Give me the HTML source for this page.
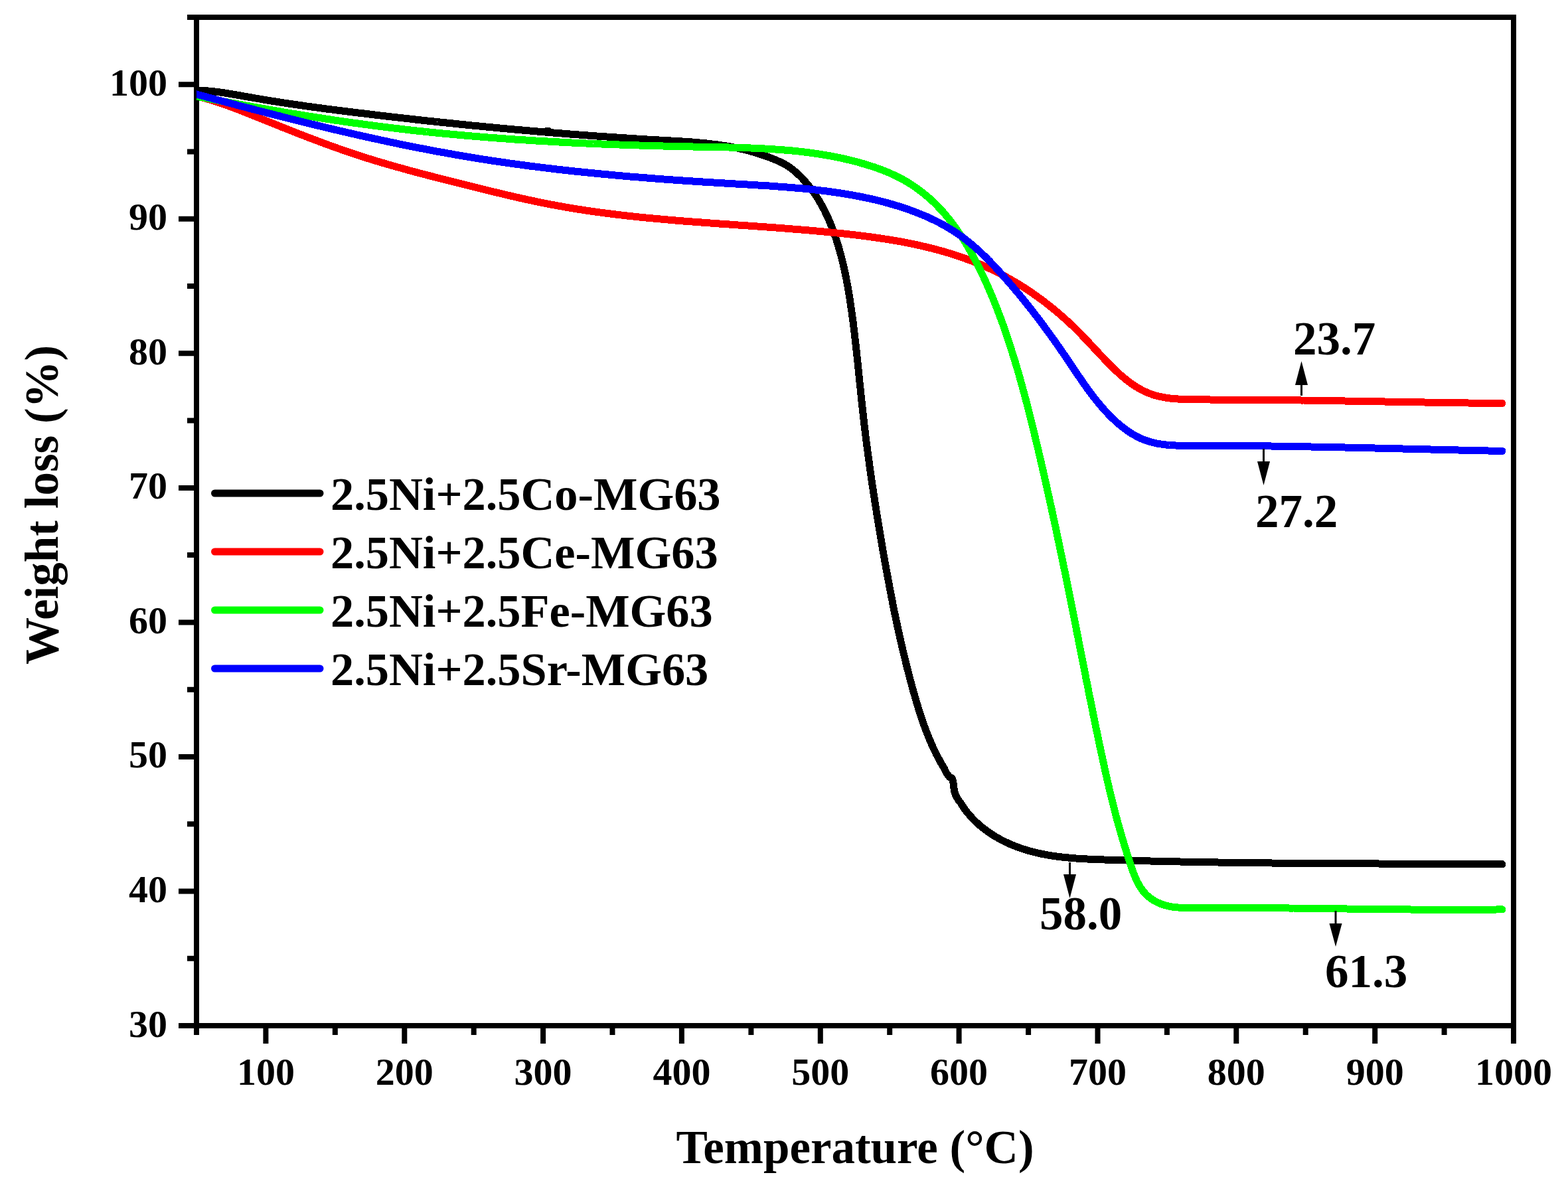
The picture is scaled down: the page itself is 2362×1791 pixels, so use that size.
<!DOCTYPE html>
<html><head><meta charset="utf-8"><style>html,body{margin:0;padding:0;background:#fff;overflow:hidden;}svg{display:block;}</style></head>
<body><svg width="2362" height="1791" viewBox="0 0 2362 1791">
<rect width="2362" height="1791" fill="#fff"/>
<defs><clipPath id="pc"><rect x="296" y="0" width="2100" height="1791"/></clipPath></defs>
<path d="M269,1545.0H296 M282,1443.7H296 M269,1342.5H296 M282,1241.2H296 M269,1139.9H296 M282,1038.7H296 M269,937.4H296 M282,836.1H296 M269,734.9H296 M282,633.6H296 M269,532.3H296 M282,431.1H296 M269,329.8H296 M282,228.5H296 M269,127.3H296 M282,26.0H296 M296.0,1545V1559 M400.4,1545V1572 M504.8,1545V1559 M609.3,1545V1572 M713.7,1545V1559 M818.1,1545V1572 M922.5,1545V1559 M1026.9,1545V1572 M1131.4,1545V1559 M1235.8,1545V1572 M1340.2,1545V1559 M1444.6,1545V1572 M1549.1,1545V1559 M1653.5,1545V1572 M1757.9,1545V1559 M1862.3,1545V1572 M1966.7,1545V1559 M2071.2,1545V1572 M2175.6,1545V1559 M2280.0,1545V1572" stroke="#000" stroke-width="8" fill="none"/>
<rect x="296" y="26" width="1984" height="1519" fill="none" stroke="#000" stroke-width="8"/>
<g clip-path="url(#pc)" fill="none" stroke-width="11" stroke-linecap="round" stroke-linejoin="round" shape-rendering="crispEdges">
<path d="M296.0,135.7 L299.0,136.0 L302.0,136.2 L305.0,136.3 L308.0,136.5 L311.0,136.8 L314.0,137.0 L316.9,137.3 L319.9,137.6 L322.9,137.9 L325.9,138.3 L328.9,138.7 L331.8,139.1 L334.8,139.5 L337.8,139.9 L340.7,140.4 L343.7,140.8 L346.6,141.3 L349.6,141.8 L352.5,142.3 L355.5,142.8 L358.4,143.3 L361.4,143.8 L364.4,144.4 L367.3,144.9 L370.3,145.4 L373.2,145.9 L376.2,146.5 L379.1,147.0 L382.1,147.5 L385.0,148.0 L388.0,148.5 L390.9,149.0 L393.9,149.5 L396.8,150.0 L399.8,150.5 L402.8,151.0 L405.7,151.5 L408.7,152.0 L411.6,152.4 L414.6,152.9 L417.5,153.4 L420.5,153.8 L423.5,154.3 L426.4,154.8 L429.4,155.2 L432.4,155.7 L435.3,156.1 L438.3,156.5 L441.3,157.0 L444.2,157.4 L447.2,157.8 L450.2,158.3 L453.1,158.7 L456.1,159.1 L459.1,159.5 L462.0,160.0 L465.0,160.4 L468.0,160.8 L470.9,161.2 L473.9,161.6 L476.9,162.0 L479.9,162.4 L482.8,162.8 L485.8,163.2 L488.8,163.6 L491.7,164.0 L494.7,164.4 L497.7,164.7 L500.7,165.1 L503.6,165.5 L506.6,165.9 L509.6,166.3 L512.6,166.6 L515.5,167.0 L518.5,167.4 L521.5,167.8 L524.5,168.1 L527.4,168.5 L530.4,168.9 L533.4,169.2 L536.4,169.6 L539.3,170.0 L542.3,170.3 L545.3,170.7 L548.3,171.0 L551.2,171.4 L554.2,171.8 L557.2,172.1 L560.2,172.5 L563.1,172.8 L566.1,173.2 L569.1,173.5 L572.1,173.9 L575.1,174.2 L578.0,174.6 L581.0,174.9 L584.0,175.3 L587.0,175.6 L589.9,176.0 L592.9,176.3 L595.9,176.6 L598.9,177.0 L601.9,177.3 L604.8,177.7 L607.8,178.0 L610.8,178.3 L613.8,178.7 L616.8,179.0 L619.7,179.3 L622.7,179.7 L625.7,180.0 L628.7,180.3 L631.6,180.7 L634.6,181.0 L637.6,181.3 L640.6,181.6 L643.6,182.0 L646.5,182.3 L649.5,182.6 L652.5,182.9 L655.5,183.2 L658.5,183.6 L661.4,183.9 L664.4,184.2 L667.4,184.5 L670.4,184.8 L673.4,185.1 L676.4,185.4 L679.3,185.7 L682.3,186.0 L685.3,186.4 L688.3,186.7 L691.3,187.0 L694.2,187.3 L697.2,187.6 L700.2,187.9 L703.2,188.2 L706.2,188.5 L709.2,188.8 L712.1,189.1 L715.1,189.3 L718.1,189.6 L721.1,189.9 L724.1,190.2 L727.1,190.5 L730.0,190.8 L733.0,191.1 L736.0,191.4 L739.0,191.7 L742.0,191.9 L745.0,192.2 L747.9,192.5 L750.9,192.8 L753.9,193.1 L756.9,193.3 L759.9,193.6 L762.9,193.9 L765.8,194.2 L768.8,194.4 L771.8,194.7 L774.8,195.0 L777.8,195.2 L780.8,195.5 L783.8,195.8 L786.7,196.0 L789.7,196.3 L792.7,196.6 L795.7,196.8 L798.7,197.1 L801.7,197.3 L804.7,197.6 L807.6,197.8 L810.6,198.1 L813.6,198.3 L816.6,198.6 L819.6,198.8 L822.6,199.1 L825.6,199.3 L828.6,199.6 L831.5,199.8 L834.5,200.1 L837.5,200.3 L840.5,200.6 L843.5,200.8 L846.5,201.0 L849.5,201.3 L852.5,201.5 L855.4,201.7 L858.4,202.0 L861.4,202.2 L864.4,202.4 L867.4,202.7 L870.4,202.9 L873.4,203.1 L876.4,203.3 L879.4,203.6 L882.3,203.8 L885.3,204.0 L888.3,204.2 L891.3,204.4 L894.3,204.7 L897.3,204.9 L900.3,205.1 L903.3,205.3 L906.3,205.5 L909.3,205.7 L912.2,205.9 L915.2,206.1 L918.2,206.3 L921.2,206.5 L924.2,206.7 L927.2,206.9 L930.2,207.1 L933.2,207.3 L936.2,207.5 L939.2,207.7 L942.2,207.9 L945.2,208.1 L948.2,208.3 L951.1,208.5 L954.1,208.7 L957.1,208.9 L960.1,209.1 L963.1,209.2 L966.1,209.4 L969.1,209.6 L972.1,209.8 L975.1,210.0 L978.1,210.1 L981.1,210.3 L984.1,210.5 L987.1,210.7 L990.1,210.8 L993.1,211.0 L996.0,211.2 L999.0,211.3 L1002.0,211.5 L1005.0,211.7 L1008.0,211.8 L1011.0,212.0 L1014.0,212.2 L1017.0,212.4 L1020.0,212.5 L1023.0,212.7 L1026.0,212.9 L1029.0,213.1 L1032.0,213.3 L1035.0,213.5 L1038.0,213.7 L1040.9,213.9 L1043.9,214.1 L1046.9,214.4 L1049.9,214.6 L1052.9,214.9 L1055.9,215.2 L1058.8,215.4 L1061.8,215.7 L1064.8,216.0 L1067.8,216.4 L1070.7,216.7 L1073.7,217.1 L1076.7,217.4 L1079.6,217.8 L1082.6,218.2 L1085.6,218.6 L1088.5,219.1 L1091.5,219.5 L1094.4,220.0 L1097.4,220.5 L1100.3,221.0 L1103.3,221.6 L1106.2,222.2 L1109.2,222.8 L1112.1,223.4 L1115.0,224.0 L1118.0,224.7 L1120.9,225.4 L1123.8,226.1 L1126.7,226.8 L1129.6,227.6 L1132.5,228.4 L1135.4,229.3 L1138.3,230.1 L1141.2,231.0 L1144.1,231.9 L1147.0,232.9 L1149.9,233.9 L1152.7,234.8 L1155.6,235.9 L1158.4,236.9 L1161.2,238.0 L1164.0,239.0 L1166.8,240.2 L1169.5,241.3 L1172.2,242.5 L1174.9,243.7 L1177.6,245.0 L1180.2,246.4 L1182.8,247.8 L1185.3,249.3 L1187.9,250.9 L1190.3,252.6 L1192.7,254.4 L1195.1,256.2 L1197.4,258.2 L1199.7,260.1 L1201.9,262.2 L1204.1,264.3 L1206.3,266.4 L1208.4,268.6 L1210.4,270.8 L1212.5,273.0 L1214.4,275.3 L1216.4,277.6 L1218.3,279.9 L1220.1,282.2 L1222.0,284.6 L1223.7,287.0 L1225.5,289.4 L1227.2,291.9 L1228.8,294.4 L1230.5,296.9 L1232.1,299.4 L1233.6,302.0 L1235.1,304.5 L1236.6,307.1 L1238.1,309.7 L1239.5,312.4 L1240.9,315.0 L1242.3,317.7 L1243.6,320.4 L1244.9,323.1 L1246.2,325.8 L1247.4,328.5 L1248.6,331.3 L1249.8,334.0 L1250.9,336.8 L1252.1,339.6 L1253.2,342.4 L1254.2,345.2 L1255.3,348.0 L1256.3,350.8 L1257.3,353.7 L1258.3,356.5 L1259.3,359.4 L1260.2,362.2 L1261.1,365.1 L1262.0,368.0 L1262.9,370.9 L1263.7,373.7 L1264.5,376.6 L1265.3,379.5 L1266.1,382.4 L1266.9,385.3 L1267.7,388.2 L1268.4,391.1 L1269.1,394.0 L1269.8,396.9 L1270.5,399.8 L1271.2,402.8 L1271.8,405.7 L1272.5,408.6 L1273.1,411.5 L1273.7,414.5 L1274.3,417.4 L1274.9,420.3 L1275.4,423.3 L1276.0,426.2 L1276.5,429.2 L1277.1,432.1 L1277.6,435.1 L1278.1,438.0 L1278.6,441.0 L1279.1,443.9 L1279.6,446.9 L1280.0,449.8 L1280.5,452.8 L1280.9,455.8 L1281.4,458.7 L1281.8,461.7 L1282.2,464.7 L1282.7,467.6 L1283.1,470.6 L1283.5,473.6 L1283.9,476.5 L1284.3,479.5 L1284.7,482.5 L1285.1,485.4 L1285.4,488.4 L1285.8,491.4 L1286.2,494.4 L1286.5,497.3 L1286.9,500.3 L1287.3,503.3 L1287.6,506.2 L1287.9,509.2 L1288.3,512.2 L1288.6,515.2 L1289.0,518.2 L1289.3,521.1 L1289.6,524.1 L1290.0,527.1 L1290.3,530.1 L1290.6,533.1 L1290.9,536.0 L1291.2,539.0 L1291.6,542.0 L1291.9,545.0 L1292.2,548.0 L1292.5,550.9 L1292.8,553.9 L1293.1,556.9 L1293.4,559.9 L1293.7,562.9 L1294.0,565.8 L1294.3,568.8 L1294.6,571.8 L1294.9,574.8 L1295.2,577.8 L1295.5,580.8 L1295.9,583.7 L1296.2,586.7 L1296.5,589.7 L1296.8,592.7 L1297.1,595.7 L1297.4,598.7 L1297.7,601.6 L1298.0,604.6 L1298.4,607.6 L1298.7,610.6 L1299.0,613.6 L1299.3,616.5 L1299.6,619.5 L1300.0,622.5 L1300.3,625.5 L1300.6,628.5 L1301.0,631.4 L1301.3,634.4 L1301.7,637.4 L1302.0,640.4 L1302.4,643.4 L1302.7,646.3 L1303.1,649.3 L1303.5,652.3 L1303.8,655.3 L1304.2,658.2 L1304.6,661.2 L1304.9,664.2 L1305.3,667.2 L1305.7,670.1 L1306.1,673.1 L1306.5,676.1 L1306.9,679.1 L1307.3,682.0 L1307.7,685.0 L1308.1,688.0 L1308.5,691.0 L1308.9,693.9 L1309.3,696.9 L1309.7,699.9 L1310.1,702.8 L1310.5,705.8 L1310.9,708.8 L1311.4,711.7 L1311.8,714.7 L1312.2,717.7 L1312.6,720.7 L1313.1,723.6 L1313.5,726.6 L1313.9,729.6 L1314.4,732.5 L1314.8,735.5 L1315.3,738.5 L1315.7,741.4 L1316.2,744.4 L1316.6,747.3 L1317.1,750.3 L1317.5,753.3 L1318.0,756.2 L1318.5,759.2 L1318.9,762.2 L1319.4,765.1 L1319.9,768.1 L1320.3,771.0 L1320.8,774.0 L1321.3,777.0 L1321.8,779.9 L1322.2,782.9 L1322.7,785.8 L1323.2,788.8 L1323.7,791.8 L1324.2,794.7 L1324.7,797.7 L1325.2,800.6 L1325.7,803.6 L1326.2,806.6 L1326.7,809.5 L1327.2,812.5 L1327.7,815.4 L1328.2,818.4 L1328.7,821.3 L1329.2,824.3 L1329.7,827.2 L1330.2,830.2 L1330.7,833.1 L1331.2,836.1 L1331.8,839.0 L1332.3,842.0 L1332.8,844.9 L1333.3,847.9 L1333.9,850.8 L1334.4,853.8 L1334.9,856.7 L1335.4,859.7 L1336.0,862.6 L1336.5,865.6 L1337.1,868.5 L1337.6,871.5 L1338.2,874.4 L1338.7,877.4 L1339.3,880.3 L1339.8,883.3 L1340.4,886.2 L1340.9,889.1 L1341.5,892.1 L1342.1,895.0 L1342.6,898.0 L1343.2,900.9 L1343.8,903.8 L1344.4,906.8 L1344.9,909.7 L1345.5,912.6 L1346.1,915.6 L1346.7,918.5 L1347.3,921.5 L1347.9,924.4 L1348.5,927.3 L1349.1,930.3 L1349.7,933.2 L1350.4,936.1 L1351.0,939.0 L1351.6,942.0 L1352.2,944.9 L1352.9,947.8 L1353.5,950.8 L1354.2,953.7 L1354.8,956.6 L1355.5,959.5 L1356.1,962.5 L1356.8,965.4 L1357.4,968.3 L1358.1,971.2 L1358.8,974.1 L1359.5,977.1 L1360.2,980.0 L1360.9,982.9 L1361.6,985.8 L1362.3,988.7 L1363.0,991.6 L1363.7,994.5 L1364.4,997.5 L1365.1,1000.4 L1365.8,1003.3 L1366.6,1006.2 L1367.3,1009.1 L1368.1,1012.0 L1368.8,1014.9 L1369.6,1017.8 L1370.3,1020.7 L1371.1,1023.6 L1371.9,1026.5 L1372.7,1029.4 L1373.4,1032.3 L1374.2,1035.2 L1375.0,1038.1 L1375.8,1041.0 L1376.6,1043.9 L1377.5,1046.8 L1378.3,1049.7 L1379.1,1052.6 L1380.0,1055.5 L1380.8,1058.3 L1381.7,1061.2 L1382.6,1064.1 L1383.4,1067.0 L1384.3,1069.8 L1385.2,1072.7 L1386.2,1075.6 L1387.1,1078.4 L1388.0,1081.3 L1389.0,1084.1 L1390.0,1086.9 L1391.0,1089.8 L1392.0,1092.6 L1393.0,1095.4 L1394.1,1098.2 L1395.1,1101.0 L1396.2,1103.8 L1397.3,1106.6 L1398.4,1109.4 L1399.5,1112.1 L1400.7,1114.9 L1401.9,1117.7 L1403.1,1120.4 L1404.3,1123.1 L1405.5,1125.8 L1406.8,1128.5 L1408.1,1131.2 L1409.4,1133.9 L1410.7,1136.6 L1412.1,1139.3 L1413.5,1141.9 L1414.9,1144.5 L1416.4,1147.2 L1417.8,1149.8 L1419.3,1152.4 L1420.9,1154.9 L1422.4,1157.5 L1425.5,1164.0 L1430.0,1170.3 L1434.0,1172.3 L1435.6,1176.0 L1436.5,1183.0 L1437.5,1192.0 L1440.0,1199.0 L1444.0,1205.5 L1447.4,1209.7 L1448.9,1212.2 L1450.5,1214.8 L1452.2,1217.2 L1453.9,1219.7 L1455.7,1222.1 L1457.6,1224.4 L1459.5,1226.7 L1461.4,1229.0 L1463.5,1231.2 L1465.5,1233.4 L1467.7,1235.6 L1469.8,1237.7 L1472.1,1239.8 L1474.3,1241.8 L1476.6,1243.8 L1479.0,1245.8 L1481.4,1247.7 L1483.8,1249.5 L1486.2,1251.3 L1488.7,1253.1 L1491.2,1254.8 L1493.8,1256.5 L1496.3,1258.2 L1498.9,1259.8 L1501.5,1261.3 L1504.1,1262.8 L1506.8,1264.3 L1509.4,1265.7 L1512.1,1267.0 L1514.8,1268.4 L1517.5,1269.6 L1520.2,1270.9 L1522.9,1272.1 L1525.6,1273.2 L1528.4,1274.3 L1531.1,1275.4 L1533.9,1276.4 L1536.7,1277.4 L1539.5,1278.3 L1542.3,1279.3 L1545.1,1280.1 L1547.9,1281.0 L1550.8,1281.8 L1553.6,1282.6 L1556.5,1283.3 L1559.3,1284.0 L1562.2,1284.7 L1565.1,1285.3 L1568.0,1286.0 L1570.9,1286.6 L1573.8,1287.1 L1576.7,1287.7 L1579.6,1288.2 L1582.5,1288.7 L1585.5,1289.1 L1588.4,1289.5 L1591.4,1290.0 L1594.3,1290.3 L1597.3,1290.7 L1600.2,1291.1 L1603.2,1291.4 L1606.2,1291.7 L1609.2,1292.0 L1612.1,1292.3 L1615.1,1292.5 L1618.1,1292.8 L1621.1,1293.0 L1624.1,1293.2 L1627.1,1293.4 L1630.1,1293.6 L1633.2,1293.8 L1636.2,1293.9 L1639.2,1294.1 L1642.2,1294.2 L1645.2,1294.3 L1648.2,1294.5 L1651.3,1294.6 L1654.3,1294.7 L1657.3,1294.8 L1660.3,1294.9 L1663.3,1295.0 L1666.4,1295.1 L1669.4,1295.2 L1672.4,1295.3 L1675.4,1295.4 L1678.5,1295.5 L1681.5,1295.6 L1684.5,1295.7 L1687.5,1295.8 L1690.5,1295.8 L1693.6,1295.9 L1696.6,1296.0 L1699.6,1296.1 L1702.6,1296.2 L1705.6,1296.3 L1708.6,1296.4 L1711.6,1296.4 L1714.7,1296.5 L1717.7,1296.6 L1720.7,1296.7 L1723.7,1296.7 L1726.7,1296.8 L1729.7,1296.9 L1732.7,1297.0 L1735.7,1297.0 L1738.7,1297.1 L1741.7,1297.2 L1744.8,1297.3 L1747.8,1297.3 L1750.8,1297.4 L1753.8,1297.5 L1756.8,1297.5 L1759.8,1297.6 L1762.8,1297.7 L1765.8,1297.7 L1768.8,1297.8 L1771.8,1297.9 L1774.8,1297.9 L1777.8,1298.0 L1780.8,1298.0 L1783.8,1298.1 L1786.8,1298.1 L1789.8,1298.2 L1792.8,1298.3 L1795.8,1298.3 L1798.8,1298.4 L1801.8,1298.4 L1804.8,1298.5 L1807.8,1298.5 L1810.8,1298.6 L1813.8,1298.6 L1816.8,1298.7 L1819.8,1298.7 L1822.8,1298.8 L1825.8,1298.8 L1828.8,1298.9 L1831.8,1298.9 L1834.8,1299.0 L1837.8,1299.0 L1840.7,1299.1 L1843.7,1299.1 L1846.7,1299.1 L1849.7,1299.2 L1852.7,1299.2 L1855.7,1299.3 L1858.7,1299.3 L1861.7,1299.4 L1864.7,1299.4 L1867.7,1299.4 L1870.7,1299.5 L1873.7,1299.5 L1876.7,1299.5 L1879.6,1299.6 L1882.6,1299.6 L1885.6,1299.6 L1888.6,1299.7 L1891.6,1299.7 L1894.6,1299.7 L1897.6,1299.8 L1900.6,1299.8 L1903.6,1299.8 L1906.5,1299.9 L1909.5,1299.9 L1912.5,1299.9 L1915.5,1300.0 L1918.5,1300.0 L1921.5,1300.0 L1924.5,1300.0 L1927.5,1300.1 L1930.4,1300.1 L1933.4,1300.1 L1936.4,1300.2 L1939.4,1300.2 L1942.4,1300.2 L1945.4,1300.2 L1948.4,1300.3 L1951.4,1300.3 L1954.3,1300.3 L1957.3,1300.3 L1960.3,1300.3 L1963.3,1300.4 L1966.3,1300.4 L1969.3,1300.4 L1972.3,1300.4 L1975.3,1300.4 L1978.2,1300.5 L1981.2,1300.5 L1984.2,1300.5 L1987.2,1300.5 L1990.2,1300.5 L1993.2,1300.6 L1996.2,1300.6 L1999.2,1300.6 L2002.1,1300.6 L2005.1,1300.6 L2008.1,1300.6 L2011.1,1300.7 L2014.1,1300.7 L2017.1,1300.7 L2020.1,1300.7 L2023.1,1300.7 L2026.0,1300.7 L2029.0,1300.8 L2032.0,1300.8 L2035.0,1300.8 L2038.0,1300.8 L2041.0,1300.8 L2044.0,1300.8 L2047.0,1300.8 L2049.9,1300.8 L2052.9,1300.9 L2055.9,1300.9 L2058.9,1300.9 L2061.9,1300.9 L2064.9,1300.9 L2067.9,1300.9 L2070.9,1300.9 L2073.9,1300.9 L2076.9,1301.0 L2079.9,1301.0 L2082.8,1301.0 L2085.8,1301.0 L2088.8,1301.0 L2091.8,1301.0 L2094.8,1301.0 L2097.8,1301.0 L2100.8,1301.0 L2103.8,1301.1 L2106.8,1301.1 L2109.8,1301.1 L2112.8,1301.1 L2115.8,1301.1 L2118.8,1301.1 L2121.8,1301.1 L2124.8,1301.1 L2127.8,1301.1 L2130.7,1301.1 L2133.7,1301.2 L2136.7,1301.2 L2139.7,1301.2 L2142.7,1301.2 L2145.7,1301.2 L2148.7,1301.2 L2151.7,1301.2 L2154.7,1301.2 L2157.7,1301.2 L2160.7,1301.2 L2163.7,1301.3 L2166.7,1301.3 L2169.7,1301.3 L2172.7,1301.3 L2175.7,1301.3 L2178.8,1301.3 L2181.8,1301.3 L2184.8,1301.3 L2187.8,1301.3 L2190.8,1301.3 L2193.8,1301.4 L2196.8,1301.4 L2199.8,1301.4 L2202.8,1301.4 L2205.8,1301.4 L2208.8,1301.4 L2211.8,1301.4 L2214.8,1301.4 L2217.8,1301.5 L2220.9,1301.5 L2223.9,1301.5 L2226.9,1301.5 L2229.9,1301.5 L2232.9,1301.5 L2235.9,1301.5 L2238.9,1301.5 L2241.9,1301.6 L2245.0,1301.6 L2248.0,1301.6 L2251.0,1301.6 L2254.0,1301.6 L2257.0,1301.6 L2260.1,1301.7 L2263.0,1301.7" stroke="#000"/>
<path d="M296.0,144.5 L298.8,145.6 L301.7,146.3 L304.6,147.0 L307.5,147.8 L310.4,148.6 L313.3,149.4 L316.2,150.2 L319.1,151.1 L321.9,152.0 L324.8,152.9 L327.7,153.8 L330.5,154.8 L333.3,155.7 L336.2,156.7 L339.0,157.7 L341.8,158.7 L344.6,159.7 L347.4,160.8 L350.2,161.8 L353.0,162.9 L355.8,163.9 L358.6,165.0 L361.4,166.1 L364.1,167.2 L366.9,168.3 L369.7,169.4 L372.5,170.5 L375.3,171.6 L378.0,172.7 L380.8,173.8 L383.6,175.0 L386.4,176.1 L389.2,177.2 L391.9,178.3 L394.7,179.4 L397.5,180.5 L400.3,181.7 L403.1,182.8 L405.8,183.9 L408.6,185.0 L411.4,186.1 L414.2,187.2 L417.0,188.3 L419.8,189.5 L422.5,190.6 L425.3,191.7 L428.1,192.8 L430.9,193.9 L433.7,195.0 L436.5,196.1 L439.3,197.2 L442.1,198.3 L444.8,199.4 L447.6,200.5 L450.4,201.6 L453.2,202.7 L456.0,203.7 L458.8,204.8 L461.6,205.9 L464.4,207.0 L467.2,208.1 L470.0,209.1 L472.8,210.2 L475.6,211.3 L478.4,212.3 L481.2,213.4 L484.0,214.4 L486.9,215.5 L489.7,216.5 L492.5,217.5 L495.3,218.6 L498.1,219.6 L500.9,220.6 L503.7,221.6 L506.6,222.6 L509.4,223.6 L512.2,224.6 L515.0,225.6 L517.9,226.6 L520.7,227.6 L523.5,228.5 L526.4,229.5 L529.2,230.5 L532.0,231.4 L534.9,232.4 L537.7,233.3 L540.6,234.2 L543.4,235.2 L546.2,236.1 L549.1,237.0 L551.9,237.9 L554.8,238.8 L557.7,239.7 L560.5,240.6 L563.4,241.4 L566.2,242.3 L569.1,243.2 L572.0,244.0 L574.8,244.9 L577.7,245.7 L580.6,246.6 L583.4,247.4 L586.3,248.3 L589.2,249.1 L592.0,249.9 L594.9,250.7 L597.8,251.5 L600.7,252.3 L603.6,253.1 L606.4,253.9 L609.3,254.7 L612.2,255.5 L615.1,256.3 L618.0,257.1 L620.9,257.9 L623.8,258.7 L626.7,259.4 L629.6,260.2 L632.5,261.0 L635.3,261.7 L638.2,262.5 L641.1,263.2 L644.0,264.0 L646.9,264.7 L649.8,265.5 L652.7,266.2 L655.6,267.0 L658.5,267.7 L661.5,268.5 L664.4,269.2 L667.3,269.9 L670.2,270.7 L673.1,271.4 L676.0,272.1 L678.9,272.9 L681.8,273.6 L684.7,274.3 L687.6,275.1 L690.5,275.8 L693.4,276.5 L696.4,277.3 L699.3,278.0 L702.2,278.7 L705.1,279.4 L708.0,280.2 L710.9,280.9 L713.8,281.6 L716.8,282.4 L719.7,283.1 L722.6,283.8 L725.5,284.5 L728.4,285.2 L731.3,286.0 L734.3,286.7 L737.2,287.4 L740.1,288.1 L743.0,288.8 L745.9,289.5 L748.9,290.2 L751.8,290.9 L754.7,291.6 L757.6,292.3 L760.6,293.0 L763.5,293.7 L766.4,294.4 L769.3,295.1 L772.3,295.8 L775.2,296.4 L778.1,297.1 L781.0,297.8 L784.0,298.4 L786.9,299.1 L789.8,299.7 L792.8,300.4 L795.7,301.0 L798.6,301.7 L801.6,302.3 L804.5,302.9 L807.4,303.5 L810.4,304.1 L813.3,304.8 L816.2,305.3 L819.2,305.9 L822.1,306.5 L825.1,307.1 L828.0,307.7 L830.9,308.2 L833.9,308.8 L836.8,309.3 L839.8,309.9 L842.7,310.4 L845.7,310.9 L848.6,311.5 L851.5,312.0 L854.5,312.5 L857.4,313.0 L860.4,313.5 L863.3,314.0 L866.3,314.4 L869.2,314.9 L872.2,315.4 L875.2,315.8 L878.1,316.3 L881.1,316.7 L884.0,317.2 L887.0,317.6 L889.9,318.0 L892.9,318.5 L895.8,318.9 L898.8,319.3 L901.8,319.7 L904.7,320.1 L907.7,320.5 L910.6,320.9 L913.6,321.3 L916.6,321.7 L919.5,322.0 L922.5,322.4 L925.5,322.8 L928.4,323.1 L931.4,323.5 L934.4,323.8 L937.3,324.2 L940.3,324.5 L943.3,324.8 L946.2,325.2 L949.2,325.5 L952.2,325.8 L955.1,326.1 L958.1,326.5 L961.1,326.8 L964.0,327.1 L967.0,327.4 L970.0,327.7 L973.0,328.0 L975.9,328.3 L978.9,328.6 L981.9,328.8 L984.9,329.1 L987.8,329.4 L990.8,329.7 L993.8,329.9 L996.8,330.2 L999.7,330.5 L1002.7,330.7 L1005.7,331.0 L1008.7,331.2 L1011.7,331.5 L1014.6,331.7 L1017.6,332.0 L1020.6,332.2 L1023.6,332.5 L1026.6,332.7 L1029.6,333.0 L1032.5,333.2 L1035.5,333.4 L1038.5,333.7 L1041.5,333.9 L1044.5,334.1 L1047.5,334.4 L1050.4,334.6 L1053.4,334.8 L1056.4,335.0 L1059.4,335.2 L1062.4,335.5 L1065.4,335.7 L1068.4,335.9 L1071.3,336.1 L1074.3,336.3 L1077.3,336.5 L1080.3,336.8 L1083.3,337.0 L1086.3,337.2 L1089.3,337.4 L1092.3,337.6 L1095.3,337.8 L1098.2,338.0 L1101.2,338.2 L1104.2,338.4 L1107.2,338.6 L1110.2,338.9 L1113.2,339.1 L1116.2,339.3 L1119.2,339.5 L1122.2,339.7 L1125.2,339.9 L1128.2,340.1 L1131.1,340.3 L1134.1,340.5 L1137.1,340.7 L1140.1,340.9 L1143.1,341.2 L1146.1,341.4 L1149.1,341.6 L1152.1,341.8 L1155.1,342.0 L1158.1,342.2 L1161.1,342.4 L1164.1,342.7 L1167.1,342.9 L1170.1,343.1 L1173.1,343.3 L1176.0,343.6 L1179.0,343.8 L1182.0,344.0 L1185.0,344.2 L1188.0,344.5 L1191.0,344.7 L1194.0,345.0 L1197.0,345.2 L1200.0,345.4 L1203.0,345.7 L1206.0,345.9 L1209.0,346.2 L1212.0,346.4 L1215.0,346.7 L1218.0,346.9 L1221.0,347.2 L1224.0,347.5 L1227.0,347.7 L1230.0,348.0 L1233.0,348.3 L1235.9,348.5 L1238.9,348.8 L1241.9,349.1 L1244.9,349.4 L1247.9,349.7 L1250.9,350.0 L1253.9,350.3 L1256.9,350.6 L1259.9,350.9 L1262.9,351.2 L1265.9,351.5 L1268.9,351.8 L1271.9,352.1 L1274.9,352.4 L1277.9,352.8 L1280.9,353.1 L1283.9,353.4 L1286.8,353.8 L1289.8,354.1 L1292.8,354.5 L1295.8,354.9 L1298.8,355.2 L1301.8,355.6 L1304.8,356.0 L1307.8,356.4 L1310.7,356.8 L1313.7,357.2 L1316.7,357.6 L1319.7,358.0 L1322.7,358.4 L1325.6,358.9 L1328.6,359.3 L1331.6,359.8 L1334.5,360.2 L1337.5,360.7 L1340.5,361.2 L1343.4,361.7 L1346.4,362.1 L1349.3,362.7 L1352.3,363.2 L1355.2,363.7 L1358.2,364.2 L1361.1,364.8 L1364.1,365.3 L1367.0,365.9 L1369.9,366.5 L1372.9,367.1 L1375.8,367.7 L1378.7,368.3 L1381.7,368.9 L1384.6,369.6 L1387.5,370.2 L1390.4,370.9 L1393.3,371.6 L1396.2,372.3 L1399.1,373.0 L1402.0,373.7 L1404.9,374.4 L1407.8,375.2 L1410.6,375.9 L1413.5,376.7 L1416.4,377.5 L1419.3,378.3 L1422.1,379.1 L1425.0,379.9 L1427.8,380.8 L1430.7,381.6 L1433.5,382.5 L1436.3,383.4 L1439.2,384.3 L1442.0,385.3 L1444.8,386.2 L1447.6,387.2 L1450.4,388.1 L1453.2,389.1 L1456.0,390.2 L1458.8,391.2 L1461.6,392.2 L1464.4,393.3 L1467.1,394.4 L1469.9,395.5 L1472.7,396.6 L1475.4,397.8 L1478.2,398.9 L1480.9,400.1 L1483.6,401.3 L1486.3,402.5 L1489.1,403.8 L1491.8,405.0 L1494.5,406.3 L1497.2,407.6 L1499.8,408.9 L1502.5,410.3 L1505.2,411.6 L1507.9,413.0 L1510.5,414.4 L1513.2,415.8 L1515.8,417.2 L1518.4,418.7 L1521.0,420.2 L1523.7,421.7 L1526.3,423.2 L1528.8,424.7 L1531.4,426.2 L1534.0,427.8 L1536.6,429.4 L1539.1,431.0 L1541.7,432.6 L1544.2,434.2 L1546.7,435.9 L1549.2,437.5 L1551.8,439.2 L1554.2,440.9 L1556.7,442.6 L1559.2,444.4 L1561.7,446.1 L1564.1,447.9 L1566.5,449.6 L1569.0,451.4 L1571.4,453.2 L1573.8,455.1 L1576.2,456.9 L1578.6,458.7 L1580.9,460.6 L1583.3,462.5 L1585.6,464.4 L1588.0,466.3 L1590.3,468.2 L1592.6,470.1 L1594.9,472.1 L1597.1,474.0 L1599.4,476.0 L1601.7,478.0 L1603.9,480.0 L1606.1,482.0 L1608.3,484.0 L1610.5,486.0 L1612.7,488.1 L1614.9,490.1 L1617.0,492.2 L1619.1,494.3 L1621.3,496.4 L1623.4,498.5 L1625.5,500.6 L1627.6,502.7 L1629.6,504.8 L1631.7,507.0 L1633.7,509.1 L1635.8,511.3 L1637.8,513.4 L1639.9,515.6 L1641.9,517.7 L1643.9,519.9 L1646.0,522.1 L1648.0,524.3 L1650.0,526.4 L1652.1,528.6 L1654.1,530.8 L1656.1,533.0 L1658.2,535.2 L1660.3,537.3 L1662.3,539.5 L1664.4,541.7 L1666.5,543.9 L1668.6,546.0 L1670.7,548.2 L1672.9,550.4 L1675.0,552.5 L1677.2,554.7 L1679.4,556.8 L1681.6,558.9 L1683.8,561.0 L1686.1,563.0 L1688.3,565.1 L1690.6,567.1 L1692.9,569.0 L1695.3,570.9 L1697.6,572.8 L1700.0,574.7 L1702.4,576.5 L1704.9,578.2 L1707.3,579.9 L1709.8,581.6 L1712.3,583.1 L1714.9,584.7 L1717.5,586.1 L1720.1,587.5 L1722.7,588.8 L1725.4,590.1 L1728.1,591.3 L1730.8,592.4 L1733.6,593.4 L1736.4,594.4 L1739.2,595.3 L1742.0,596.1 L1744.9,596.8 L1747.7,597.5 L1750.6,598.1 L1753.5,598.7 L1756.5,599.2 L1759.4,599.6 L1762.4,600.0 L1765.3,600.3 L1768.3,600.6 L1771.3,600.8 L1774.3,601.0 L1777.4,601.2 L1780.4,601.3 L1783.4,601.4 L1786.4,601.5 L1789.5,601.6 L1792.5,601.7 L1795.5,601.7 L1798.6,601.7 L1801.6,601.8 L1804.6,601.8 L1807.7,601.8 L1810.7,601.9 L1813.7,601.9 L1816.7,601.9 L1819.7,601.9 L1822.7,602.0 L1825.7,602.0 L1828.7,602.0 L1831.7,602.0 L1834.7,602.0 L1837.7,602.0 L1840.7,602.1 L1843.7,602.1 L1846.7,602.1 L1849.7,602.1 L1852.7,602.1 L1855.7,602.1 L1858.7,602.1 L1861.7,602.1 L1864.7,602.2 L1867.6,602.2 L1870.6,602.2 L1873.6,602.2 L1876.6,602.2 L1879.6,602.2 L1882.6,602.2 L1885.6,602.3 L1888.6,602.3 L1891.5,602.3 L1894.5,602.3 L1897.5,602.3 L1900.5,602.4 L1903.5,602.4 L1906.5,602.4 L1909.5,602.4 L1912.5,602.4 L1915.5,602.5 L1918.4,602.5 L1921.4,602.5 L1924.4,602.6 L1927.4,602.6 L1930.4,602.6 L1933.4,602.7 L1936.4,602.7 L1939.4,602.7 L1942.4,602.8 L1945.4,602.8 L1948.4,602.8 L1951.4,602.9 L1954.3,602.9 L1957.3,602.9 L1960.3,603.0 L1963.3,603.0 L1966.3,603.1 L1969.3,603.1 L1972.3,603.1 L1975.3,603.2 L1978.3,603.2 L1981.3,603.3 L1984.3,603.3 L1987.3,603.3 L1990.3,603.4 L1993.3,603.4 L1996.3,603.5 L1999.3,603.5 L2002.3,603.6 L2005.3,603.6 L2008.3,603.7 L2011.3,603.7 L2014.2,603.8 L2017.2,603.8 L2020.2,603.9 L2023.2,603.9 L2026.2,604.0 L2029.2,604.0 L2032.2,604.1 L2035.2,604.1 L2038.2,604.2 L2041.2,604.2 L2044.2,604.3 L2047.2,604.3 L2050.2,604.4 L2053.2,604.4 L2056.2,604.5 L2059.2,604.5 L2062.2,604.6 L2065.2,604.6 L2068.2,604.7 L2071.2,604.7 L2074.2,604.8 L2077.2,604.8 L2080.2,604.9 L2083.2,604.9 L2086.2,605.0 L2089.2,605.0 L2092.2,605.1 L2095.2,605.1 L2098.2,605.2 L2101.2,605.2 L2104.2,605.3 L2107.2,605.3 L2110.2,605.4 L2113.2,605.4 L2116.2,605.5 L2119.2,605.5 L2122.2,605.6 L2125.2,605.6 L2128.2,605.7 L2131.2,605.8 L2134.2,605.8 L2137.2,605.8 L2140.2,605.9 L2143.2,605.9 L2146.2,606.0 L2149.1,606.0 L2152.1,606.1 L2155.1,606.1 L2158.1,606.2 L2161.1,606.2 L2164.1,606.3 L2167.1,606.3 L2170.1,606.4 L2173.1,606.4 L2176.1,606.5 L2179.1,606.5 L2182.1,606.6 L2185.1,606.6 L2188.1,606.6 L2191.1,606.7 L2194.1,606.7 L2197.1,606.8 L2200.1,606.8 L2203.1,606.8 L2206.1,606.9 L2209.1,606.9 L2212.1,607.0 L2215.1,607.0 L2218.1,607.0 L2221.1,607.1 L2224.1,607.1 L2227.1,607.1 L2230.1,607.2 L2233.1,607.2 L2236.0,607.2 L2239.0,607.3 L2242.0,607.3 L2245.0,607.3 L2248.0,607.4 L2251.0,607.4 L2254.0,607.4 L2257.0,607.4 L2260.0,607.5 L2263.0,607.5" stroke="#f00"/>
<path d="M296.0,144.3 L298.9,145.6 L301.8,146.2 L304.7,146.7 L307.7,147.3 L310.6,147.9 L313.5,148.4 L316.5,149.0 L319.4,149.5 L322.4,150.1 L325.3,150.6 L328.2,151.2 L331.2,151.8 L334.1,152.3 L337.1,152.9 L340.0,153.4 L342.9,153.9 L345.9,154.5 L348.8,155.0 L351.8,155.6 L354.7,156.1 L357.7,156.7 L360.6,157.2 L363.6,157.7 L366.5,158.3 L369.5,158.8 L372.4,159.3 L375.4,159.9 L378.3,160.4 L381.3,160.9 L384.2,161.4 L387.2,162.0 L390.1,162.5 L393.1,163.0 L396.0,163.5 L399.0,164.0 L401.9,164.5 L404.9,165.1 L407.9,165.6 L410.8,166.1 L413.8,166.6 L416.7,167.1 L419.7,167.6 L422.6,168.1 L425.6,168.6 L428.6,169.1 L431.5,169.6 L434.5,170.1 L437.4,170.6 L440.4,171.1 L443.4,171.5 L446.3,172.0 L449.3,172.5 L452.2,173.0 L455.2,173.5 L458.2,173.9 L461.1,174.4 L464.1,174.9 L467.1,175.4 L470.0,175.8 L473.0,176.3 L476.0,176.8 L478.9,177.2 L481.9,177.7 L484.9,178.1 L487.8,178.6 L490.8,179.0 L493.8,179.5 L496.7,179.9 L499.7,180.4 L502.7,180.8 L505.6,181.3 L508.6,181.7 L511.6,182.1 L514.6,182.6 L517.5,183.0 L520.5,183.4 L523.5,183.8 L526.4,184.3 L529.4,184.7 L532.4,185.1 L535.4,185.5 L538.3,185.9 L541.3,186.3 L544.3,186.7 L547.3,187.1 L550.2,187.5 L553.2,187.9 L556.2,188.3 L559.2,188.7 L562.1,189.1 L565.1,189.5 L568.1,189.9 L571.1,190.3 L574.0,190.6 L577.0,191.0 L580.0,191.4 L583.0,191.8 L585.9,192.1 L588.9,192.5 L591.9,192.9 L594.9,193.2 L597.8,193.6 L600.8,193.9 L603.8,194.3 L606.8,194.6 L609.8,195.0 L612.7,195.3 L615.7,195.6 L618.7,196.0 L621.7,196.3 L624.6,196.6 L627.6,197.0 L630.6,197.3 L633.6,197.6 L636.6,197.9 L639.5,198.2 L642.5,198.6 L645.5,198.9 L648.5,199.2 L651.5,199.5 L654.4,199.8 L657.4,200.1 L660.4,200.4 L663.4,200.7 L666.4,201.0 L669.4,201.3 L672.3,201.5 L675.3,201.8 L678.3,202.1 L681.3,202.4 L684.3,202.7 L687.3,202.9 L690.2,203.2 L693.2,203.5 L696.2,203.7 L699.2,204.0 L702.2,204.3 L705.2,204.5 L708.1,204.8 L711.1,205.0 L714.1,205.3 L717.1,205.5 L720.1,205.8 L723.1,206.0 L726.1,206.3 L729.0,206.5 L732.0,206.8 L735.0,207.0 L738.0,207.2 L741.0,207.5 L744.0,207.7 L747.0,207.9 L749.9,208.1 L752.9,208.4 L755.9,208.6 L758.9,208.8 L761.9,209.0 L764.9,209.2 L767.9,209.4 L770.9,209.6 L773.8,209.9 L776.8,210.1 L779.8,210.3 L782.8,210.5 L785.8,210.7 L788.8,210.9 L791.8,211.0 L794.8,211.2 L797.8,211.4 L800.8,211.6 L803.7,211.8 L806.7,212.0 L809.7,212.2 L812.7,212.3 L815.7,212.5 L818.7,212.7 L821.7,212.9 L824.7,213.0 L827.7,213.2 L830.7,213.4 L833.7,213.5 L836.6,213.7 L839.6,213.9 L842.6,214.0 L845.6,214.2 L848.6,214.3 L851.6,214.5 L854.6,214.7 L857.6,214.8 L860.6,215.0 L863.6,215.1 L866.6,215.2 L869.6,215.4 L872.6,215.5 L875.6,215.7 L878.6,215.8 L881.6,215.9 L884.6,216.1 L887.5,216.2 L890.5,216.3 L893.5,216.5 L896.5,216.6 L899.5,216.7 L902.5,216.8 L905.5,217.0 L908.5,217.1 L911.5,217.2 L914.5,217.3 L917.5,217.4 L920.5,217.6 L923.5,217.7 L926.5,217.8 L929.5,217.9 L932.5,218.0 L935.5,218.1 L938.5,218.2 L941.5,218.3 L944.5,218.4 L947.5,218.5 L950.5,218.6 L953.5,218.7 L956.5,218.8 L959.5,218.9 L962.5,219.0 L965.5,219.1 L968.5,219.2 L971.5,219.3 L974.5,219.3 L977.5,219.4 L980.5,219.5 L983.5,219.6 L986.5,219.7 L989.5,219.8 L992.5,219.8 L995.5,219.9 L998.5,220.0 L1001.5,220.1 L1004.5,220.1 L1007.5,220.2 L1010.5,220.3 L1013.5,220.4 L1016.5,220.4 L1019.5,220.5 L1022.5,220.6 L1025.5,220.6 L1028.5,220.7 L1031.5,220.8 L1034.5,220.8 L1037.5,220.9 L1040.6,220.9 L1043.6,221.0 L1046.6,221.0 L1049.6,221.1 L1052.6,221.2 L1055.6,221.2 L1058.6,221.3 L1061.6,221.3 L1064.6,221.4 L1067.6,221.4 L1070.6,221.5 L1073.6,221.5 L1076.6,221.6 L1079.6,221.6 L1082.6,221.7 L1085.6,221.8 L1088.6,221.8 L1091.6,221.9 L1094.6,221.9 L1097.6,222.0 L1100.6,222.1 L1103.7,222.2 L1106.7,222.2 L1109.7,222.3 L1112.7,222.4 L1115.7,222.5 L1118.7,222.6 L1121.7,222.7 L1124.7,222.8 L1127.7,222.9 L1130.7,223.0 L1133.6,223.1 L1136.6,223.2 L1139.6,223.4 L1142.6,223.5 L1145.6,223.7 L1148.6,223.8 L1151.6,224.0 L1154.6,224.1 L1157.6,224.3 L1160.6,224.5 L1163.6,224.7 L1166.6,224.9 L1169.5,225.1 L1172.5,225.3 L1175.5,225.5 L1178.5,225.7 L1181.5,226.0 L1184.4,226.2 L1187.4,226.5 L1190.4,226.8 L1193.4,227.0 L1196.3,227.3 L1199.3,227.6 L1202.3,227.9 L1205.3,228.3 L1208.2,228.6 L1211.2,229.0 L1214.1,229.3 L1217.1,229.7 L1220.1,230.1 L1223.0,230.5 L1226.0,230.9 L1228.9,231.3 L1231.9,231.8 L1234.8,232.2 L1237.8,232.7 L1240.7,233.2 L1243.7,233.7 L1246.6,234.2 L1249.6,234.7 L1252.5,235.2 L1255.4,235.8 L1258.4,236.4 L1261.3,237.0 L1264.2,237.6 L1267.2,238.2 L1270.1,238.8 L1273.0,239.5 L1275.9,240.2 L1278.8,240.9 L1281.8,241.6 L1284.7,242.3 L1287.6,243.1 L1290.5,243.8 L1293.4,244.6 L1296.3,245.4 L1299.2,246.3 L1302.1,247.1 L1305.0,248.0 L1307.9,248.9 L1310.7,249.8 L1313.6,250.7 L1316.5,251.6 L1319.4,252.6 L1322.2,253.6 L1325.0,254.7 L1327.9,255.7 L1330.7,256.8 L1333.5,257.9 L1336.3,259.1 L1339.1,260.2 L1341.9,261.4 L1344.6,262.7 L1347.3,263.9 L1350.1,265.2 L1352.8,266.6 L1355.4,267.9 L1358.1,269.3 L1360.7,270.8 L1363.4,272.3 L1366.0,273.8 L1368.5,275.3 L1371.1,276.9 L1373.6,278.6 L1376.1,280.2 L1378.6,281.9 L1381.0,283.6 L1383.5,285.4 L1385.9,287.2 L1388.2,289.0 L1390.6,290.8 L1392.9,292.7 L1395.2,294.6 L1397.5,296.6 L1399.8,298.5 L1402.0,300.5 L1404.2,302.6 L1406.4,304.6 L1408.5,306.7 L1410.6,308.8 L1412.7,310.9 L1414.8,313.1 L1416.8,315.2 L1418.8,317.4 L1420.8,319.6 L1422.8,321.9 L1424.7,324.1 L1426.6,326.4 L1428.5,328.7 L1430.4,331.0 L1432.2,333.4 L1434.0,335.7 L1435.8,338.1 L1437.6,340.5 L1439.3,342.9 L1441.0,345.4 L1442.8,347.8 L1444.4,350.3 L1446.1,352.8 L1447.7,355.3 L1449.4,357.8 L1451.0,360.3 L1452.6,362.9 L1454.1,365.4 L1455.7,368.0 L1457.2,370.6 L1458.7,373.1 L1460.2,375.7 L1461.7,378.4 L1463.2,381.0 L1464.6,383.6 L1466.0,386.3 L1467.5,388.9 L1468.9,391.6 L1470.2,394.2 L1471.6,396.9 L1473.0,399.6 L1474.3,402.3 L1475.7,405.0 L1477.0,407.7 L1478.3,410.4 L1479.6,413.1 L1480.9,415.8 L1482.1,418.5 L1483.4,421.2 L1484.7,424.0 L1485.9,426.7 L1487.1,429.5 L1488.3,432.2 L1489.5,434.9 L1490.7,437.7 L1491.9,440.5 L1493.1,443.2 L1494.2,446.0 L1495.4,448.8 L1496.5,451.5 L1497.7,454.3 L1498.8,457.1 L1499.9,459.9 L1501.0,462.7 L1502.1,465.5 L1503.1,468.3 L1504.2,471.1 L1505.3,473.9 L1506.3,476.7 L1507.4,479.5 L1508.4,482.3 L1509.4,485.1 L1510.4,487.9 L1511.5,490.8 L1512.5,493.6 L1513.4,496.4 L1514.4,499.3 L1515.4,502.1 L1516.4,504.9 L1517.3,507.8 L1518.3,510.6 L1519.2,513.4 L1520.2,516.3 L1521.1,519.1 L1522.0,522.0 L1522.9,524.8 L1523.8,527.7 L1524.7,530.5 L1525.6,533.4 L1526.5,536.3 L1527.4,539.1 L1528.3,542.0 L1529.2,544.9 L1530.0,547.7 L1530.9,550.6 L1531.7,553.5 L1532.6,556.3 L1533.4,559.2 L1534.3,562.1 L1535.1,565.0 L1535.9,567.8 L1536.7,570.7 L1537.5,573.6 L1538.3,576.5 L1539.1,579.4 L1539.9,582.3 L1540.7,585.2 L1541.5,588.1 L1542.3,590.9 L1543.1,593.8 L1543.8,596.7 L1544.6,599.6 L1545.4,602.5 L1546.1,605.4 L1546.9,608.3 L1547.6,611.2 L1548.4,614.1 L1549.1,617.0 L1549.9,619.9 L1550.6,622.8 L1551.3,625.8 L1552.1,628.7 L1552.8,631.6 L1553.5,634.5 L1554.2,637.4 L1555.0,640.3 L1555.7,643.2 L1556.4,646.1 L1557.1,649.0 L1557.8,652.0 L1558.5,654.9 L1559.2,657.8 L1559.9,660.7 L1560.6,663.6 L1561.3,666.5 L1562.0,669.5 L1562.7,672.4 L1563.4,675.3 L1564.1,678.2 L1564.8,681.1 L1565.4,684.1 L1566.1,687.0 L1566.8,689.9 L1567.5,692.8 L1568.2,695.7 L1568.8,698.7 L1569.5,701.6 L1570.2,704.5 L1570.9,707.4 L1571.5,710.4 L1572.2,713.3 L1572.9,716.2 L1573.5,719.1 L1574.2,722.1 L1574.8,725.0 L1575.5,727.9 L1576.2,730.8 L1576.8,733.8 L1577.5,736.7 L1578.1,739.6 L1578.8,742.6 L1579.4,745.5 L1580.1,748.4 L1580.7,751.3 L1581.4,754.3 L1582.0,757.2 L1582.7,760.1 L1583.3,763.1 L1584.0,766.0 L1584.6,768.9 L1585.2,771.9 L1585.9,774.8 L1586.5,777.7 L1587.1,780.7 L1587.8,783.6 L1588.4,786.5 L1589.0,789.5 L1589.7,792.4 L1590.3,795.3 L1590.9,798.3 L1591.5,801.2 L1592.2,804.1 L1592.8,807.1 L1593.4,810.0 L1594.0,812.9 L1594.7,815.9 L1595.3,818.8 L1595.9,821.7 L1596.5,824.7 L1597.1,827.6 L1597.7,830.5 L1598.3,833.5 L1599.0,836.4 L1599.6,839.3 L1600.2,842.3 L1600.8,845.2 L1601.4,848.2 L1602.0,851.1 L1602.6,854.0 L1603.2,857.0 L1603.8,859.9 L1604.4,862.8 L1605.0,865.8 L1605.6,868.7 L1606.2,871.7 L1606.8,874.6 L1607.4,877.5 L1608.0,880.5 L1608.6,883.4 L1609.2,886.3 L1609.8,889.3 L1610.3,892.2 L1610.9,895.2 L1611.5,898.1 L1612.1,901.0 L1612.7,904.0 L1613.3,906.9 L1613.9,909.8 L1614.5,912.8 L1615.0,915.7 L1615.6,918.7 L1616.2,921.6 L1616.8,924.5 L1617.4,927.5 L1618.0,930.4 L1618.5,933.4 L1619.1,936.3 L1619.7,939.2 L1620.3,942.2 L1620.9,945.1 L1621.4,948.1 L1622.0,951.0 L1622.6,953.9 L1623.2,956.9 L1623.8,959.8 L1624.3,962.7 L1624.9,965.7 L1625.5,968.6 L1626.1,971.6 L1626.6,974.5 L1627.2,977.4 L1627.8,980.4 L1628.4,983.3 L1629.0,986.3 L1629.5,989.2 L1630.1,992.1 L1630.7,995.1 L1631.3,998.0 L1631.9,1001.0 L1632.4,1003.9 L1633.0,1006.8 L1633.6,1009.8 L1634.2,1012.7 L1634.8,1015.7 L1635.3,1018.6 L1635.9,1021.6 L1636.5,1024.5 L1637.1,1027.4 L1637.7,1030.4 L1638.3,1033.3 L1638.9,1036.3 L1639.4,1039.2 L1640.0,1042.1 L1640.6,1045.1 L1641.2,1048.0 L1641.8,1051.0 L1642.4,1053.9 L1643.0,1056.8 L1643.6,1059.8 L1644.2,1062.7 L1644.8,1065.7 L1645.4,1068.6 L1646.0,1071.5 L1646.5,1074.5 L1647.1,1077.4 L1647.7,1080.4 L1648.4,1083.3 L1649.0,1086.2 L1649.6,1089.2 L1650.2,1092.1 L1650.8,1095.1 L1651.4,1098.0 L1652.0,1101.0 L1652.6,1103.9 L1653.2,1106.8 L1653.8,1109.8 L1654.4,1112.7 L1655.1,1115.7 L1655.7,1118.6 L1656.3,1121.5 L1656.9,1124.5 L1657.5,1127.4 L1658.2,1130.4 L1658.8,1133.3 L1659.4,1136.2 L1660.1,1139.2 L1660.7,1142.1 L1661.3,1145.1 L1662.0,1148.0 L1662.6,1151.0 L1663.3,1153.9 L1663.9,1156.8 L1664.5,1159.8 L1665.2,1162.7 L1665.9,1165.6 L1666.5,1168.6 L1667.2,1171.5 L1667.8,1174.4 L1668.5,1177.4 L1669.2,1180.3 L1669.9,1183.2 L1670.5,1186.1 L1671.2,1189.0 L1671.9,1192.0 L1672.6,1194.9 L1673.3,1197.8 L1674.0,1200.7 L1674.7,1203.6 L1675.5,1206.5 L1676.2,1209.4 L1676.9,1212.3 L1677.6,1215.2 L1678.4,1218.1 L1679.1,1221.0 L1679.9,1223.9 L1680.6,1226.8 L1681.4,1229.7 L1682.1,1232.5 L1682.9,1235.4 L1683.7,1238.3 L1684.5,1241.1 L1685.3,1244.0 L1686.1,1246.9 L1686.9,1249.7 L1687.7,1252.6 L1688.5,1255.4 L1689.4,1258.3 L1690.2,1261.1 L1691.0,1264.0 L1691.9,1266.9 L1692.8,1269.7 L1693.6,1272.6 L1694.5,1275.4 L1695.4,1278.3 L1696.3,1281.2 L1697.2,1284.1 L1698.1,1287.0 L1699.0,1289.8 L1699.9,1292.7 L1700.9,1295.6 L1701.8,1298.5 L1702.8,1301.5 L1703.7,1304.4 L1704.7,1307.3 L1705.7,1310.2 L1706.8,1313.1 L1707.9,1316.0 L1709.0,1318.8 L1710.1,1321.7 L1711.4,1324.4 L1712.7,1327.2 L1714.0,1329.8 L1715.4,1332.5 L1716.9,1335.0 L1718.5,1337.5 L1720.2,1339.9 L1721.9,1342.3 L1723.8,1344.5 L1725.8,1346.6 L1727.9,1348.7 L1730.1,1350.6 L1732.4,1352.4 L1734.8,1354.2 L1737.3,1355.8 L1739.8,1357.3 L1742.4,1358.7 L1745.1,1360.0 L1747.9,1361.2 L1750.6,1362.2 L1753.5,1363.2 L1756.3,1364.0 L1759.2,1364.7 L1762.1,1365.3 L1765.0,1365.9 L1767.9,1366.3 L1770.9,1366.7 L1773.8,1366.9 L1776.8,1367.2 L1779.8,1367.3 L1782.8,1367.4 L1785.8,1367.5 L1788.8,1367.6 L1791.8,1367.6 L1794.9,1367.6 L1797.9,1367.6 L1800.9,1367.5 L1803.9,1367.5 L1807.0,1367.5 L1810.0,1367.5 L1813.0,1367.5 L1816.0,1367.5 L1819.0,1367.4 L1822.1,1367.4 L1825.1,1367.4 L1828.1,1367.4 L1831.1,1367.4 L1834.1,1367.4 L1837.2,1367.4 L1840.2,1367.4 L1843.2,1367.4 L1846.2,1367.4 L1849.2,1367.4 L1852.2,1367.4 L1855.2,1367.4 L1858.3,1367.4 L1861.3,1367.4 L1864.3,1367.4 L1867.3,1367.5 L1870.3,1367.5 L1873.3,1367.5 L1876.3,1367.5 L1879.3,1367.5 L1882.3,1367.5 L1885.3,1367.5 L1888.3,1367.5 L1891.3,1367.6 L1894.3,1367.6 L1897.3,1367.6 L1900.3,1367.6 L1903.4,1367.6 L1906.4,1367.7 L1909.4,1367.7 L1912.4,1367.7 L1915.4,1367.7 L1918.4,1367.8 L1921.4,1367.8 L1924.4,1367.8 L1927.4,1367.8 L1930.4,1367.9 L1933.3,1367.9 L1936.3,1367.9 L1939.3,1367.9 L1942.3,1368.0 L1945.3,1368.0 L1948.3,1368.0 L1951.3,1368.1 L1954.3,1368.1 L1957.3,1368.1 L1960.3,1368.2 L1963.3,1368.2 L1966.3,1368.2 L1969.3,1368.3 L1972.3,1368.3 L1975.3,1368.3 L1978.3,1368.4 L1981.3,1368.4 L1984.3,1368.4 L1987.2,1368.5 L1990.2,1368.5 L1993.2,1368.5 L1996.2,1368.6 L1999.2,1368.6 L2002.2,1368.6 L2005.2,1368.7 L2008.2,1368.7 L2011.2,1368.7 L2014.2,1368.8 L2017.2,1368.8 L2020.2,1368.9 L2023.1,1368.9 L2026.1,1368.9 L2029.1,1369.0 L2032.1,1369.0 L2035.1,1369.0 L2038.1,1369.1 L2041.1,1369.1 L2044.1,1369.1 L2047.1,1369.2 L2050.1,1369.2 L2053.0,1369.2 L2056.0,1369.3 L2059.0,1369.3 L2062.0,1369.3 L2065.0,1369.4 L2068.0,1369.4 L2071.0,1369.4 L2074.0,1369.5 L2077.0,1369.5 L2080.0,1369.5 L2082.9,1369.6 L2085.9,1369.6 L2088.9,1369.6 L2091.9,1369.7 L2094.9,1369.7 L2097.9,1369.7 L2100.9,1369.8 L2103.9,1369.8 L2106.9,1369.8 L2109.9,1369.8 L2112.9,1369.9 L2115.9,1369.9 L2118.8,1369.9 L2121.8,1369.9 L2124.8,1370.0 L2127.8,1370.0 L2130.8,1370.0 L2133.8,1370.0 L2136.8,1370.0 L2139.8,1370.1 L2142.8,1370.1 L2145.8,1370.1 L2148.8,1370.1 L2151.8,1370.1 L2154.8,1370.1 L2157.8,1370.2 L2160.8,1370.2 L2163.8,1370.2 L2166.8,1370.2 L2169.8,1370.2 L2172.8,1370.2 L2175.8,1370.2 L2178.8,1370.2 L2181.8,1370.2 L2184.8,1370.2 L2187.8,1370.2 L2190.8,1370.2 L2193.8,1370.2 L2196.8,1370.2 L2199.8,1370.2 L2202.8,1370.2 L2205.8,1370.2 L2208.8,1370.2 L2211.8,1370.2 L2214.8,1370.2 L2217.8,1370.2 L2220.8,1370.2 L2223.8,1370.2 L2226.9,1370.2 L2229.9,1370.1 L2232.9,1370.1 L2235.9,1370.1 L2238.9,1370.1 L2241.9,1370.1 L2244.9,1370.0 L2247.9,1370.0 L2251.0,1370.0 L2254.0,1370.0 L2257.0,1369.9 L2260.0,1369.9 L2263.0,1369.9" stroke="#0f0"/>
<path d="M296.0,141.9 L298.9,142.8 L301.8,143.6 L304.7,144.3 L307.6,145.1 L310.5,145.9 L313.4,146.7 L316.3,147.4 L319.2,148.2 L322.1,149.0 L325.0,149.8 L327.9,150.5 L330.8,151.3 L333.6,152.1 L336.5,152.8 L339.4,153.6 L342.3,154.4 L345.2,155.1 L348.1,155.9 L351.0,156.7 L353.9,157.4 L356.8,158.2 L359.7,159.0 L362.6,159.7 L365.5,160.5 L368.4,161.2 L371.3,162.0 L374.2,162.8 L377.1,163.5 L380.0,164.3 L382.9,165.0 L385.8,165.8 L388.7,166.5 L391.6,167.3 L394.5,168.0 L397.4,168.8 L400.3,169.5 L403.2,170.3 L406.1,171.0 L409.1,171.8 L412.0,172.5 L414.9,173.3 L417.8,174.0 L420.7,174.7 L423.6,175.5 L426.5,176.2 L429.4,177.0 L432.3,177.7 L435.2,178.4 L438.1,179.2 L441.0,179.9 L444.0,180.6 L446.9,181.3 L449.8,182.1 L452.7,182.8 L455.6,183.5 L458.5,184.2 L461.4,184.9 L464.4,185.7 L467.3,186.4 L470.2,187.1 L473.1,187.8 L476.0,188.5 L478.9,189.2 L481.8,189.9 L484.8,190.6 L487.7,191.3 L490.6,192.0 L493.5,192.7 L496.4,193.4 L499.4,194.1 L502.3,194.8 L505.2,195.5 L508.1,196.2 L511.1,196.9 L514.0,197.6 L516.9,198.2 L519.8,198.9 L522.7,199.6 L525.7,200.3 L528.6,200.9 L531.5,201.6 L534.4,202.3 L537.4,202.9 L540.3,203.6 L543.2,204.3 L546.2,204.9 L549.1,205.6 L552.0,206.2 L554.9,206.9 L557.9,207.5 L560.8,208.2 L563.7,208.8 L566.7,209.5 L569.6,210.1 L572.5,210.7 L575.5,211.4 L578.4,212.0 L581.3,212.6 L584.3,213.3 L587.2,213.9 L590.1,214.5 L593.1,215.1 L596.0,215.7 L599.0,216.4 L601.9,217.0 L604.8,217.6 L607.8,218.2 L610.7,218.8 L613.7,219.4 L616.6,220.0 L619.5,220.6 L622.5,221.1 L625.4,221.7 L628.4,222.3 L631.3,222.9 L634.2,223.5 L637.2,224.0 L640.1,224.6 L643.1,225.2 L646.0,225.7 L649.0,226.3 L651.9,226.9 L654.9,227.4 L657.8,228.0 L660.8,228.5 L663.7,229.1 L666.7,229.6 L669.6,230.1 L672.6,230.7 L675.5,231.2 L678.5,231.7 L681.4,232.2 L684.4,232.8 L687.3,233.3 L690.3,233.8 L693.2,234.3 L696.2,234.8 L699.1,235.3 L702.1,235.8 L705.1,236.3 L708.0,236.8 L711.0,237.3 L713.9,237.8 L716.9,238.2 L719.9,238.7 L722.8,239.2 L725.8,239.7 L728.7,240.1 L731.7,240.6 L734.7,241.0 L737.6,241.5 L740.6,242.0 L743.5,242.4 L746.5,242.8 L749.5,243.3 L752.4,243.7 L755.4,244.2 L758.4,244.6 L761.3,245.0 L764.3,245.4 L767.3,245.9 L770.2,246.3 L773.2,246.7 L776.2,247.1 L779.1,247.5 L782.1,247.9 L785.1,248.3 L788.1,248.7 L791.0,249.1 L794.0,249.5 L797.0,249.9 L799.9,250.3 L802.9,250.6 L805.9,251.0 L808.9,251.4 L811.8,251.8 L814.8,252.1 L817.8,252.5 L820.8,252.9 L823.7,253.2 L826.7,253.6 L829.7,253.9 L832.7,254.3 L835.6,254.6 L838.6,255.0 L841.6,255.3 L844.6,255.7 L847.6,256.0 L850.5,256.3 L853.5,256.7 L856.5,257.0 L859.5,257.3 L862.5,257.6 L865.4,258.0 L868.4,258.3 L871.4,258.6 L874.4,258.9 L877.4,259.2 L880.4,259.5 L883.3,259.8 L886.3,260.1 L889.3,260.4 L892.3,260.7 L895.3,261.0 L898.3,261.3 L901.2,261.6 L904.2,261.9 L907.2,262.2 L910.2,262.5 L913.2,262.8 L916.2,263.0 L919.2,263.3 L922.1,263.6 L925.1,263.9 L928.1,264.1 L931.1,264.4 L934.1,264.7 L937.1,264.9 L940.1,265.2 L943.1,265.4 L946.1,265.7 L949.0,266.0 L952.0,266.2 L955.0,266.5 L958.0,266.7 L961.0,266.9 L964.0,267.2 L967.0,267.4 L970.0,267.7 L973.0,267.9 L976.0,268.1 L979.0,268.4 L981.9,268.6 L984.9,268.8 L987.9,269.1 L990.9,269.3 L993.9,269.5 L996.9,269.8 L999.9,270.0 L1002.9,270.2 L1005.9,270.4 L1008.9,270.6 L1011.9,270.8 L1014.9,271.1 L1017.9,271.3 L1020.9,271.5 L1023.9,271.7 L1026.8,271.9 L1029.8,272.1 L1032.8,272.3 L1035.8,272.5 L1038.8,272.7 L1041.8,272.9 L1044.8,273.1 L1047.8,273.3 L1050.8,273.5 L1053.8,273.7 L1056.8,273.9 L1059.8,274.1 L1062.8,274.3 L1065.8,274.5 L1068.8,274.7 L1071.8,274.8 L1074.8,275.0 L1077.8,275.2 L1080.8,275.4 L1083.8,275.6 L1086.8,275.8 L1089.8,275.9 L1092.8,276.1 L1095.8,276.3 L1098.7,276.5 L1101.7,276.6 L1104.7,276.8 L1107.7,277.0 L1110.7,277.2 L1113.7,277.3 L1116.7,277.5 L1119.7,277.7 L1122.7,277.9 L1125.7,278.0 L1128.7,278.2 L1131.7,278.4 L1134.7,278.6 L1137.7,278.7 L1140.7,278.9 L1143.7,279.1 L1146.7,279.3 L1149.7,279.5 L1152.7,279.7 L1155.7,279.9 L1158.7,280.0 L1161.7,280.2 L1164.7,280.4 L1167.6,280.7 L1170.6,280.9 L1173.6,281.1 L1176.6,281.3 L1179.6,281.5 L1182.6,281.7 L1185.6,282.0 L1188.6,282.2 L1191.6,282.5 L1194.6,282.7 L1197.5,283.0 L1200.5,283.2 L1203.5,283.5 L1206.5,283.8 L1209.5,284.0 L1212.5,284.3 L1215.4,284.6 L1218.4,284.9 L1221.4,285.2 L1224.4,285.6 L1227.4,285.9 L1230.3,286.2 L1233.3,286.6 L1236.3,286.9 L1239.3,287.3 L1242.2,287.6 L1245.2,288.0 L1248.2,288.4 L1251.1,288.8 L1254.1,289.2 L1257.1,289.6 L1260.0,290.1 L1263.0,290.5 L1266.0,290.9 L1268.9,291.4 L1271.9,291.9 L1274.9,292.4 L1277.8,292.9 L1280.8,293.4 L1283.7,293.9 L1286.7,294.4 L1289.6,295.0 L1292.6,295.5 L1295.5,296.1 L1298.5,296.7 L1301.4,297.3 L1304.3,297.9 L1307.3,298.5 L1310.2,299.2 L1313.1,299.8 L1316.0,300.5 L1319.0,301.2 L1321.9,301.9 L1324.8,302.6 L1327.7,303.3 L1330.6,304.1 L1333.5,304.9 L1336.4,305.6 L1339.3,306.4 L1342.2,307.3 L1345.1,308.1 L1348.0,308.9 L1350.8,309.8 L1353.7,310.7 L1356.6,311.6 L1359.4,312.5 L1362.3,313.5 L1365.1,314.5 L1368.0,315.4 L1370.8,316.4 L1373.6,317.5 L1376.5,318.5 L1379.3,319.6 L1382.1,320.7 L1384.9,321.8 L1387.7,322.9 L1390.4,324.1 L1393.2,325.2 L1396.0,326.4 L1398.7,327.7 L1401.4,328.9 L1404.1,330.2 L1406.8,331.5 L1409.5,332.8 L1412.2,334.1 L1414.9,335.5 L1417.5,336.9 L1420.2,338.3 L1422.8,339.8 L1425.4,341.3 L1427.9,342.8 L1430.5,344.3 L1433.1,345.9 L1435.6,347.5 L1438.1,349.1 L1440.6,350.7 L1443.0,352.4 L1445.5,354.1 L1447.9,355.9 L1450.3,357.6 L1452.7,359.4 L1455.1,361.2 L1457.4,363.1 L1459.8,365.0 L1462.1,366.9 L1464.4,368.8 L1466.6,370.7 L1468.9,372.7 L1471.1,374.7 L1473.4,376.7 L1475.6,378.7 L1477.8,380.8 L1480.0,382.8 L1482.1,384.9 L1484.3,387.0 L1486.4,389.1 L1488.5,391.3 L1490.7,393.4 L1492.8,395.6 L1494.8,397.8 L1496.9,399.9 L1499.0,402.1 L1501.0,404.3 L1503.1,406.6 L1505.1,408.8 L1507.1,411.0 L1509.1,413.2 L1511.1,415.5 L1513.1,417.7 L1515.1,420.0 L1517.1,422.3 L1519.1,424.5 L1521.0,426.8 L1523.0,429.1 L1524.9,431.4 L1526.9,433.6 L1528.8,435.9 L1530.7,438.2 L1532.6,440.5 L1534.6,442.8 L1536.5,445.1 L1538.4,447.4 L1540.2,449.7 L1542.1,452.0 L1544.0,454.4 L1545.9,456.7 L1547.7,459.0 L1549.6,461.4 L1551.4,463.7 L1553.3,466.0 L1555.1,468.4 L1556.9,470.8 L1558.8,473.1 L1560.6,475.5 L1562.4,477.8 L1564.2,480.2 L1566.0,482.6 L1567.8,485.0 L1569.6,487.4 L1571.4,489.8 L1573.2,492.2 L1574.9,494.6 L1576.7,497.0 L1578.5,499.4 L1580.2,501.8 L1582.0,504.2 L1583.7,506.7 L1585.5,509.1 L1587.2,511.5 L1589.0,514.0 L1590.7,516.4 L1592.4,518.9 L1594.1,521.4 L1595.9,523.8 L1597.6,526.3 L1599.3,528.8 L1601.0,531.3 L1602.7,533.7 L1604.4,536.2 L1606.1,538.7 L1607.8,541.2 L1609.5,543.8 L1611.2,546.3 L1612.9,548.8 L1614.6,551.3 L1616.3,553.8 L1617.9,556.3 L1619.6,558.9 L1621.3,561.4 L1623.0,563.9 L1624.7,566.4 L1626.5,568.9 L1628.2,571.4 L1629.9,573.9 L1631.6,576.4 L1633.4,578.9 L1635.1,581.3 L1636.9,583.8 L1638.6,586.2 L1640.4,588.7 L1642.2,591.1 L1644.0,593.5 L1645.8,595.9 L1647.7,598.3 L1649.5,600.7 L1651.4,603.0 L1653.3,605.4 L1655.2,607.7 L1657.1,610.0 L1659.1,612.3 L1661.0,614.5 L1663.0,616.7 L1665.0,619.0 L1667.0,621.2 L1669.1,623.3 L1671.1,625.5 L1673.2,627.6 L1675.4,629.7 L1677.5,631.7 L1679.7,633.7 L1681.9,635.8 L1684.1,637.7 L1686.4,639.7 L1688.7,641.6 L1691.0,643.4 L1693.3,645.2 L1695.7,647.0 L1698.1,648.7 L1700.5,650.4 L1703.0,652.0 L1705.5,653.6 L1708.0,655.0 L1710.6,656.5 L1713.2,657.9 L1715.8,659.2 L1718.5,660.4 L1721.2,661.5 L1723.9,662.6 L1726.6,663.6 L1729.4,664.5 L1732.2,665.4 L1735.1,666.2 L1737.9,666.9 L1740.8,667.6 L1743.7,668.2 L1746.6,668.7 L1749.6,669.1 L1752.6,669.6 L1755.5,669.9 L1758.5,670.2 L1761.5,670.5 L1764.6,670.7 L1767.6,670.9 L1770.6,671.0 L1773.7,671.1 L1776.8,671.2 L1779.8,671.2 L1782.9,671.3 L1786.0,671.3 L1789.0,671.3 L1792.1,671.3 L1795.2,671.3 L1798.2,671.2 L1801.3,671.2 L1804.4,671.2 L1807.4,671.2 L1810.5,671.2 L1813.5,671.2 L1816.5,671.2 L1819.6,671.2 L1822.6,671.2 L1825.6,671.2 L1828.6,671.2 L1831.6,671.2 L1834.7,671.2 L1837.7,671.2 L1840.7,671.2 L1843.7,671.2 L1846.7,671.2 L1849.7,671.3 L1852.7,671.3 L1855.7,671.3 L1858.6,671.3 L1861.6,671.3 L1864.6,671.4 L1867.6,671.4 L1870.6,671.4 L1873.6,671.5 L1876.5,671.5 L1879.5,671.5 L1882.5,671.5 L1885.5,671.6 L1888.4,671.6 L1891.4,671.7 L1894.4,671.7 L1897.4,671.7 L1900.4,671.8 L1903.3,671.8 L1906.3,671.9 L1909.3,671.9 L1912.3,671.9 L1915.2,672.0 L1918.2,672.0 L1921.2,672.1 L1924.2,672.1 L1927.2,672.2 L1930.2,672.2 L1933.1,672.3 L1936.1,672.3 L1939.1,672.4 L1942.1,672.4 L1945.1,672.5 L1948.1,672.5 L1951.1,672.6 L1954.1,672.6 L1957.0,672.7 L1960.0,672.7 L1963.0,672.8 L1966.0,672.8 L1969.0,672.9 L1972.0,672.9 L1975.0,673.0 L1978.0,673.0 L1981.0,673.1 L1984.0,673.2 L1987.0,673.2 L1990.0,673.3 L1993.0,673.3 L1996.0,673.4 L1999.0,673.4 L2002.0,673.5 L2004.9,673.6 L2007.9,673.6 L2010.9,673.7 L2013.9,673.8 L2016.9,673.8 L2019.9,673.9 L2022.9,673.9 L2025.9,674.0 L2028.9,674.1 L2031.9,674.1 L2034.9,674.2 L2037.9,674.3 L2040.9,674.3 L2043.9,674.4 L2046.9,674.5 L2049.9,674.5 L2053.0,674.6 L2056.0,674.7 L2059.0,674.7 L2062.0,674.8 L2065.0,674.9 L2068.0,674.9 L2071.0,675.0 L2074.0,675.1 L2077.0,675.1 L2080.0,675.2 L2083.0,675.3 L2086.0,675.3 L2089.0,675.4 L2092.0,675.5 L2095.0,675.5 L2098.0,675.6 L2101.0,675.7 L2104.0,675.8 L2107.0,675.8 L2110.0,675.9 L2113.0,676.0 L2116.0,676.0 L2119.0,676.1 L2122.0,676.2 L2125.0,676.2 L2128.0,676.3 L2131.0,676.4 L2134.0,676.5 L2137.1,676.5 L2140.1,676.6 L2143.1,676.7 L2146.1,676.7 L2149.1,676.8 L2152.1,676.9 L2155.1,677.0 L2158.1,677.0 L2161.1,677.1 L2164.1,677.2 L2167.1,677.2 L2170.1,677.3 L2173.1,677.4 L2176.1,677.5 L2179.1,677.5 L2182.1,677.6 L2185.1,677.7 L2188.1,677.7 L2191.1,677.8 L2194.1,677.9 L2197.1,678.0 L2200.1,678.0 L2203.1,678.1 L2206.1,678.2 L2209.1,678.2 L2212.1,678.3 L2215.1,678.4 L2218.1,678.5 L2221.1,678.5 L2224.1,678.6 L2227.1,678.7 L2230.1,678.7 L2233.1,678.8 L2236.0,678.9 L2239.0,678.9 L2242.0,679.0 L2245.0,679.1 L2248.0,679.1 L2251.0,679.2 L2254.0,679.3 L2257.0,679.3 L2260.0,679.4 L2263.0,679.5" stroke="#00f"/>
</g>
<path d="M816,196.5L821,192.3L828,191.6L833,196.5Z" fill="#000" shape-rendering="crispEdges"/>
<g font-family="'Liberation Serif', 'Times New Roman', serif" font-weight="bold" font-size="58" fill="#000"><text x="252" y="1561.5" text-anchor="end">30</text><text x="252" y="1359.0" text-anchor="end">40</text><text x="252" y="1156.4" text-anchor="end">50</text><text x="252" y="953.9" text-anchor="end">60</text><text x="252" y="751.4" text-anchor="end">70</text><text x="252" y="548.8" text-anchor="end">80</text><text x="252" y="346.3" text-anchor="end">90</text><text x="252" y="143.8" text-anchor="end">100</text><text x="400.4" y="1634" text-anchor="middle">100</text><text x="609.3" y="1634" text-anchor="middle">200</text><text x="818.1" y="1634" text-anchor="middle">300</text><text x="1026.9" y="1634" text-anchor="middle">400</text><text x="1235.8" y="1634" text-anchor="middle">500</text><text x="1444.6" y="1634" text-anchor="middle">600</text><text x="1653.5" y="1634" text-anchor="middle">700</text><text x="1862.3" y="1634" text-anchor="middle">800</text><text x="2071.2" y="1634" text-anchor="middle">900</text><text x="2280.0" y="1634" text-anchor="middle">1000</text></g>
<g font-family="'Liberation Serif', 'Times New Roman', serif" font-weight="bold" font-size="71" fill="#000">
<text x="1288" y="1752" text-anchor="middle">Temperature (°C)</text>
<text transform="translate(86.5,1001) rotate(-90)" x="0" y="0">Weight loss (%)</text>
<g font-size="70.4">
<text x="498" y="768">2.5Ni+2.5Co-MG63</text>
<text x="498" y="856">2.5Ni+2.5Ce-MG63</text>
<text x="498" y="944">2.5Ni+2.5Fe-MG63</text>
<text x="498" y="1032">2.5Ni+2.5Sr-MG63</text>
</g>
<text x="1948" y="534">23.7</text>
<text x="1891" y="794">27.2</text>
<text x="1566" y="1400">58.0</text>
<text x="1996" y="1487">61.3</text>
</g>
<path d="M323.5,743H482" stroke="#000" stroke-width="11" stroke-linecap="round"/>
<path d="M323.5,831H482" stroke="#f00" stroke-width="11" stroke-linecap="round"/>
<path d="M323.5,919H482" stroke="#0f0" stroke-width="11" stroke-linecap="round"/>
<path d="M323.5,1007H482" stroke="#00f" stroke-width="11" stroke-linecap="round"/>
<path d="M1960.5,596V580" stroke="#000" stroke-width="3"/><path d="M1951.0,580L1970.0,580L1960.5,544Z" fill="#000"/>
<path d="M1903.5,676V695" stroke="#000" stroke-width="3"/><path d="M1894.0,695L1913.0,695L1903.5,731Z" fill="#000"/>
<path d="M1611.5,1299V1317" stroke="#000" stroke-width="3"/><path d="M1602.0,1317L1621.0,1317L1611.5,1353Z" fill="#000"/>
<path d="M2012,1372V1391" stroke="#000" stroke-width="3"/><path d="M2002.5,1391L2021.5,1391L2012,1426Z" fill="#000"/>
</svg></body></html>
